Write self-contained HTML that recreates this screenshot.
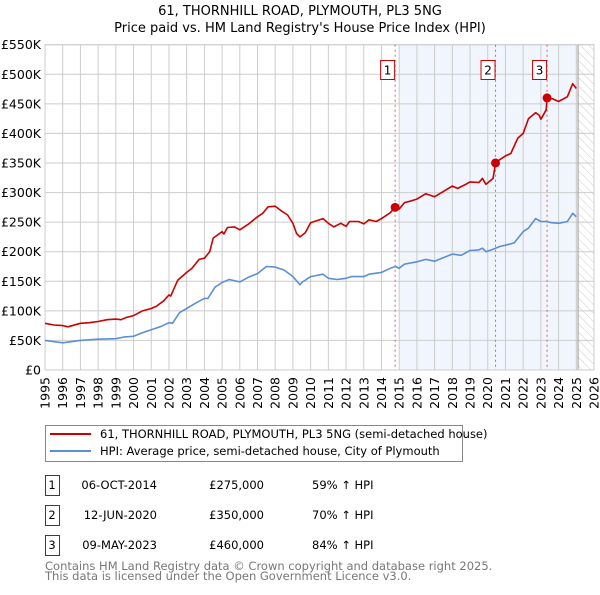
<!DOCTYPE html>
<html><head><meta charset="utf-8"><style>
body{margin:0;background:#fff;font-family:"Liberation Sans","DejaVu Sans",sans-serif;}
svg text{font-family:"DejaVu Sans","Liberation Sans",sans-serif;}
</style></head><body>
<svg id="c" width="600" height="590" xmlns="http://www.w3.org/2000/svg">
<defs><pattern id="hatch" width="6" height="6" patternUnits="userSpaceOnUse" patternTransform="rotate(-45)"><line x1="0" y1="0" x2="0" y2="6" stroke="#ccc" stroke-width="1"/></pattern></defs>
<text x="300" y="15" text-anchor="middle" font-size="13">61, THORNHILL ROAD, PLYMOUTH, PL3 5NG</text>
<text x="300" y="32" text-anchor="middle" font-size="13">Price paid vs. HM Land Registry's House Price Index (HPI)</text>
<g id="plot"></g>
<g>
<rect x="45.5" y="425.5" width="417" height="36" fill="#fff" stroke="#888"/>
<line x1="50" y1="434" x2="91" y2="434" stroke="#cc0000" stroke-width="2"/>
<text x="100" y="438" font-size="11.5">61, THORNHILL ROAD, PLYMOUTH, PL3 5NG (semi-detached house)</text>
<line x1="50" y1="451" x2="91" y2="451" stroke="#5b8fd4" stroke-width="2"/>
<text x="100" y="455" font-size="11.5">HPI: Average price, semi-detached house, City of Plymouth</text>
</g>
<g id="table" font-size="11.5"></g>
<text x="45" y="570" font-size="11.5" fill="#777">Contains HM Land Registry data © Crown copyright and database right 2025.</text>
<text x="45" y="580" font-size="11.5" fill="#777">This data is licensed under the Open Government Licence v3.0.</text>
</svg>
<script>
const redYears=[1995,1995.5,1996,1996.3,1997,1997.5,1998,1998.5,1999,1999.3,1999.6,2000,2000.5,2001,2001.3,2001.7,2002,2002.1,2002.5,2003,2003.3,2003.7,2004,2004.3,2004.5,2005,2005.1,2005.3,2005.7,2006,2006.5,2007,2007.3,2007.6,2008,2008.3,2008.7,2009,2009.2,2009.4,2009.7,2010,2010.7,2011,2011.3,2011.7,2012,2012.2,2012.7,2013,2013.3,2013.7,2014,2014.5,2014.77,2015,2015.3,2015.7,2016,2016.5,2017,2017.5,2018,2018.3,2018.7,2019,2019.5,2019.7,2019.9,2020.3,2020.44,2020.7,2021,2021.3,2021.7,2022,2022.3,2022.7,2022.9,2023,2023.3,2023.35,2023.7,2024,2024.5,2024.8,2025];
const redValues=[79,76,75,73,79,80,82,85,86,85,89,92,100,104,108,117,127,125,152,165,172,187,189,200,223,234,230,241,242,237,247,259,265,276,277,270,262,248,231,225,232,249,256,248,242,248,243,251,251,247,254,251,256,266,275,272,283,286,289,298,293,302,311,307,313,318,317,324,314,324,350,356,362,366,392,400,425,435,431,424,440,462,458,454,462,484,476];
const blueYears=[1995,1996,1997,1998,1999,1999.5,2000,2000.5,2001,2001.5,2002,2002.2,2002.6,2003,2003.5,2004,2004.2,2004.6,2005,2005.4,2006,2006.5,2007,2007.5,2008,2008.5,2009,2009.4,2009.5,2010,2010.7,2011,2011.5,2012,2012.3,2013,2013.3,2014,2014.5,2014.8,2015,2015.3,2016,2016.5,2017,2017.5,2018,2018.5,2019,2019.5,2019.7,2019.9,2020.3,2020.7,2021,2021.5,2022,2022.3,2022.7,2023,2023.3,2023.6,2024,2024.5,2024.8,2025];
const blueValues=[50,46,50,52,53,56,57,63,68,73,80,79,97,104,113,121,121,140,148,153,149,157,163,175,174,169,158,144,148,158,162,155,153,155,158,158,162,165,172,175,172,179,183,187,184,190,196,194,202,203,206,200,204,209,211,215,234,240,256,251,251,249,248,251,265,259];
const saleYears=[2014.77,2020.44,2023.35];
const saleValues=[275,350,460];
const saleLabels=["1","2","3"];
const saleDates=["06-OCT-2014","12-JUN-2020","09-MAY-2023"];
const salePrices=["£275,000","£350,000","£460,000"];
const saleHpi=["59% ↑ HPI","70% ↑ HPI","84% ↑ HPI"];
const yTicks=[0,50,100,150,200,250,300,350,400,450,500,550];
const yTickLabels=["£0","£50K","£100K","£150K","£200K","£250K","£300K","£350K","£400K","£450K","£500K","£550K"];
const xTicks=[1995,1996,1997,1998,1999,2000,2001,2002,2003,2004,2005,2006,2007,2008,2009,2010,2011,2012,2013,2014,2015,2016,2017,2018,2019,2020,2021,2022,2023,2024,2025,2026];

const L=45,R=594,T=44.7,B=370;
const X=y=>L+(y-1995)/(2026-1995)*(R-L);
const Y=v=>B-v/550*(B-T);
const NS="http://www.w3.org/2000/svg";
const plot=document.getElementById('plot');
function mk(tag,a,parent){const e=document.createElementNS(NS,tag);for(const k in a)e.setAttribute(k,a[k]);(parent||plot).appendChild(e);return e;}

let e=mk('rect',{x:X(2015),y:T,width:X(2025.1)-X(2015),height:B-T,fill:'#eef3fc',opacity:0.8});


e=mk('rect',{x:X(2025.1),y:T,width:R-X(2025.1),height:B-T,fill:'url(#hatch)'});


yTicks.forEach((v,i)=>{
  let g=mk('line',{x1:L,x2:R,y1:Y(v),y2:Y(v),stroke:'#ccc','stroke-width':1});
  
  
  let t=mk('text',{x:L-4,y:Y(v)+4.5,'text-anchor':'end','font-size':12.5});
  t.textContent=yTickLabels[i];
  
  
});
xTicks.forEach(yr=>{
  let g=mk('line',{x1:X(yr),x2:X(yr),y1:T,y2:B,stroke:'#ccc','stroke-width':1});
  
  
  const tx=X(yr)+4.5, ty=377;
  let t=mk('text',{x:tx,y:ty,'text-anchor':'end','font-size':12.5,transform:`rotate(-90 ${tx} ${ty})`});
  t.textContent=yr;
  
  
});
e=mk('line',{x1:X(2025.1),x2:X(2025.1),y1:T,y2:B,stroke:'#999','stroke-width':1});


e=mk('rect',{x:L,y:T,width:R-L,height:B-T,fill:'none',stroke:'#ccc'});



saleYears.forEach((yr,i)=>{
  let l=mk('line',{x1:X(yr),x2:X(yr),y1:T,y2:B,stroke:'#e06060','stroke-width':1,'stroke-dasharray':'2,3'});
  
  
  let r=mk('rect',{x:X(yr)-14.5,y:60.5,width:14,height:19,fill:'#fff',stroke:'#cc0000'});
  
  
  let t=mk('text',{x:X(yr)-7.5,y:74.5,'text-anchor':'middle','font-size':12});
  t.textContent=saleLabels[i];
  
  
});

function line(xs,vs,col,name){
  const p=mk('path',{d:xs.map((x,i)=>(i?'L':'M')+X(x).toFixed(1)+','+Y(vs[i]).toFixed(1)).join(''),fill:'none',stroke:col,'stroke-width':1.6,'stroke-linejoin':'round'});
  
  
}
line(blueYears,blueValues,'#5b8fd4','hpi-line');
line(redYears,redValues,'#cc0000','property-price-line');
saleYears.forEach((yr,i)=>{
  const c=mk('circle',{cx:X(yr),cy:Y(saleValues[i]),r:4.5,fill:'#cc0000'});
  
  
});

const tbl=document.getElementById('table');
saleLabels.forEach((lab,i)=>{
  const y0=475+i*30;
  let r=mk('rect',{x:45.5,y:y0+0.5,width:14,height:20,fill:'#fff',stroke:'#cc0000'},tbl);
  
  
  const cells=[[52,lab,'middle'],[157,saleDates[i],'end'],[264,salePrices[i],'end'],[312,saleHpi[i],'start']];
  cells.forEach(([x,s,a])=>{
    let t=mk('text',{x:x,y:y0+14,'text-anchor':a},tbl);
    t.textContent=s;
    
    
  });
});
</script>
</body></html>
